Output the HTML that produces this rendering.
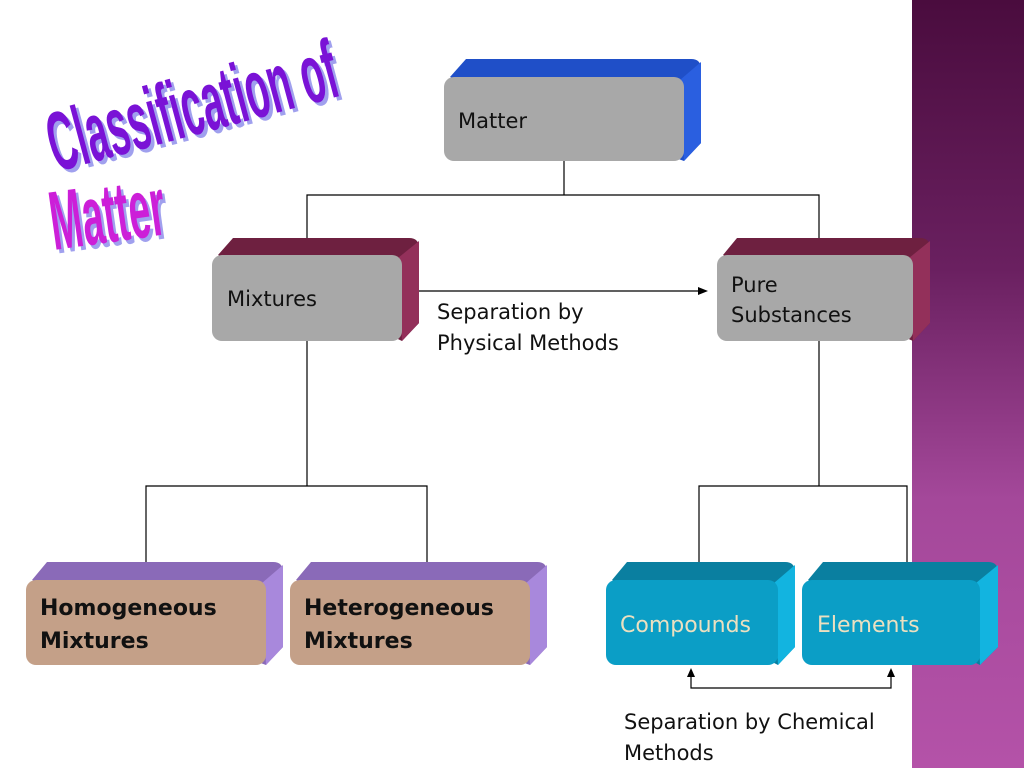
<!DOCTYPE html>
<html><head><meta charset="utf-8"><style>
html,body{margin:0;padding:0;background:#fff}
body{width:1024px;height:768px;overflow:hidden;position:relative;font-family:"DejaVu Sans","Liberation Sans",sans-serif}
.strip{position:absolute;left:912px;top:0;width:112px;height:768px;background:linear-gradient(#4a0c3e,#6a2060 35%,#a4489a 65%,#b452a8)}
</style></head><body>
<div class="strip"></div>
<svg width="1024" height="768" style="position:absolute;left:0;top:0" font-family="DejaVu Sans, Liberation Sans, sans-serif">
<g font-family="Liberation Sans Narrow, Liberation Sans, sans-serif" font-weight="bold">
 <g transform="translate(56,172) rotate(-15) scale(0.62,1.35)">
  <text x="4" y="3" font-size="62" fill="#a0a0ee">Classification of</text>
  <text x="0" y="0" font-size="62" fill="#7a12d6">Classification of</text>
 </g>
 <g transform="translate(54,250) rotate(-8) scale(0.62,1.35)">
  <text x="4" y="3" font-size="62" fill="#a0a0ee">Matter</text>
  <text x="0" y="0" font-size="62" fill="#cc1fd8">Matter</text>
 </g>
</g>
<g stroke="#000" stroke-width="1.2" fill="none">
 <polyline points="564,161 564,195"/>
 <polyline points="307,238 307,195 819,195 819,238"/>
 <polyline points="307,341 307,486"/>
 <polyline points="146,572 146,486 427,486 427,572"/>
 <polyline points="819,341 819,486"/>
 <polyline points="699,572 699,486 907,486 907,572"/>
 <line x1="410" y1="291" x2="700" y2="291"/>
 <polyline points="691,676 691,688 891,688 891,676"/>
</g>
<g fill="#000">
 <polygon points="708,291 698,287 698,295"/>
 <polygon points="691,668 687,677 695,677"/>
 <polygon points="891,668 887,677 895,677"/>
</g>
<defs>
<g id="x"></g>
</defs>
<!-- Matter -->
<path d="M450,77 L466,59 L691,59 Q701,59 701,69 L701,143 L684,161 Z" fill="#1f4fc8"/>
<path d="M680,80 L701,62 L701,143 L684,161 Z" fill="#2a5fe0"/>
<rect x="444" y="77" width="240" height="84" rx="10" fill="#a8a8a8"/>
<!-- Mixtures -->
<path d="M218,255 L233,238 L409,238 Q419,238 419,248 L419,323 L402,341 Z" fill="#6e2040"/>
<path d="M398,258 L419,241 L419,323 L402,341 Z" fill="#93305a"/>
<rect x="212" y="255" width="190" height="86" rx="10" fill="#a8a8a8"/>
<!-- Pure -->
<path d="M723,255 L737,238 L920,238 Q930,238 930,248 L930,323 L913,341 Z" fill="#6e2040"/>
<path d="M909,258 L930,241 L930,323 L913,341 Z" fill="#93305a"/>
<rect x="717" y="255" width="196" height="86" rx="10" fill="#a8a8a8"/>
<!-- Homogeneous -->
<path d="M32,580 L47,562 L273,562 Q283,562 283,572 L283,647 L266,665 Z" fill="#8a6ab8"/>
<path d="M262,583 L283,565 L283,647 L266,665 Z" fill="#a888dc"/>
<rect x="26" y="580" width="240" height="85" rx="10" fill="#c4a088"/>
<!-- Heterogeneous -->
<path d="M296,580 L311,562 L537,562 Q547,562 547,572 L547,647 L530,665 Z" fill="#8a6ab8"/>
<path d="M526,583 L547,565 L547,647 L530,665 Z" fill="#a888dc"/>
<rect x="290" y="580" width="240" height="85" rx="10" fill="#c4a088"/>
<!-- Compounds -->
<path d="M612,580 L627,562 L785,562 Q795,562 795,572 L795,647 L778,665 Z" fill="#0a7fa0"/>
<path d="M774,583 L795,565 L795,647 L778,665 Z" fill="#12b4e0"/>
<rect x="606" y="580" width="172" height="85" rx="10" fill="#0b9ec6"/>
<!-- Elements -->
<path d="M808,580 L823,562 L988,562 Q998,562 998,572 L998,647 L980,665 Z" fill="#0a7fa0"/>
<path d="M976,583 L998,565 L998,647 L980,665 Z" fill="#12b4e0"/>
<rect x="802" y="580" width="178" height="85" rx="10" fill="#0b9ec6"/>
<g font-size="21" fill="#111">
 <text x="458" y="128">Matter</text>
 <text x="227" y="306">Mixtures</text>
 <text x="731" y="292">Pure</text>
 <text x="731" y="322">Substances</text>
 <text x="437" y="319">Separation by</text>
 <text x="437" y="350">Physical Methods</text>
 <text x="624" y="729">Separation by Chemical</text>
 <text x="624" y="760">Methods</text>
</g>
<g font-size="22" font-weight="bold" fill="#111">
 <text x="40" y="615">Homogeneous</text>
 <text x="40" y="648">Mixtures</text>
 <text x="304" y="615">Heterogeneous</text>
 <text x="304" y="648">Mixtures</text>
</g>
<g font-size="22" fill="#ece0c0">
 <text x="620" y="632">Compounds</text>
 <text x="817" y="632">Elements</text>
</g>
</svg>
</body></html>
